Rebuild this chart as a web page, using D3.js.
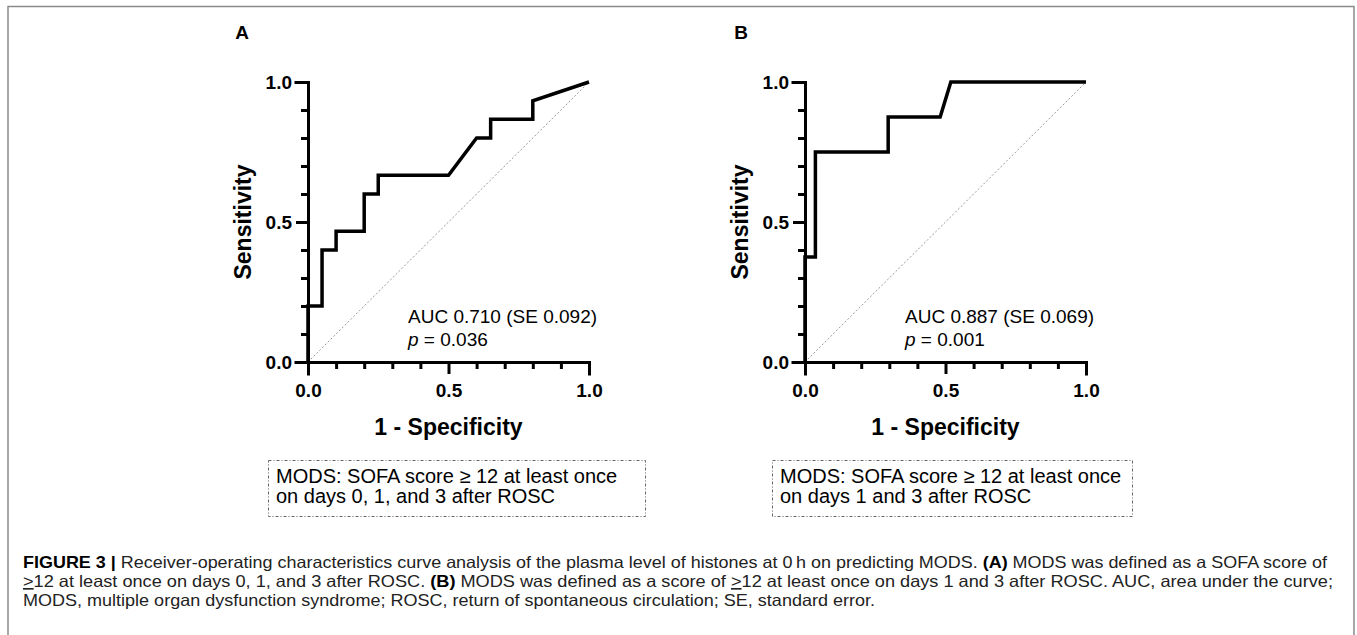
<!DOCTYPE html>
<html>
<head>
<meta charset="utf-8">
<script src="https://cdn.jsdelivr.net/npm/d3@7"></script>
<style>
  body { margin: 0; background: #fff; }
  svg { display: block; font-family: Arial, "Liberation Sans", sans-serif; }
</style>
</head>
<body>
<div id="canvas"></div>
<script>
var _width = 1357;
var _height = 635;

// ROC curve points
var panelLabels = ["A", "B"];
var fprA = [0, 0, 0.05, 0.05, 0.1, 0.1, 0.2, 0.2, 0.25, 0.25, 0.5, 0.6, 0.65, 0.65, 0.8, 0.8, 1.0];
var tprA = [0, 0.2, 0.2, 0.4, 0.4, 0.467, 0.467, 0.6, 0.6, 0.667, 0.667, 0.8, 0.8, 0.867, 0.867, 0.933, 1.0];
var fprB = [0, 0, 0.037, 0.037, 0.296, 0.296, 0.481, 0.519, 1.0];
var tprB = [0, 0.375, 0.375, 0.75, 0.75, 0.875, 0.875, 1.0, 1.0];

var aucLabels = ["AUC 0.710 (SE 0.092)", "AUC 0.887 (SE 0.069)"];
var pValues = ["0.036", "0.001"];
var majorTicks = [0, 0.5, 1.0];
var minorTicks = [0.1, 0.2, 0.3, 0.4, 0.6, 0.7, 0.8, 0.9];
var xTitle = "1 - Specificity";
var yTitle = "Sensitivity";
var boxLinesA = ["MODS: SOFA score \u2265 12 at least once", "on days 0, 1, and 3 after ROSC"];
var boxLinesB = ["MODS: SOFA score \u2265 12 at least once", "on days 1 and 3 after ROSC"];

var panels = [
    {label: panelLabels[0], fpr: fprA, tpr: tprA, auc: aucLabels[0], p: pValues[0], box: boxLinesA,
     left: 308, top: 82, boxX: 268, boxW: 377, labelX: 242},
    {label: panelLabels[1], fpr: fprB, tpr: tprB, auc: aucLabels[1], p: pValues[1], box: boxLinesB,
     left: 805, top: 82, boxX: 772, boxW: 360, labelX: 741}
];
var pw = 281, ph = 280;

var svg = d3.select('#canvas').append('svg')
    .attr('width', _width)
    .attr('height', _height);

// outer frame
svg.append('rect')
    .attr('x', 8).attr('y', 6.5)
    .attr('width', 1346).attr('height', 700)
    .style('fill', 'none')
    .style('stroke', '#8a8a8a')
    .style('stroke-width', 1.5);

panels.forEach(function(p) {
    var xs = d3.scaleLinear().domain([0, 1]).range([0, pw]);
    var ys = d3.scaleLinear().domain([0, 1]).range([ph, 0]);

    var g = svg.append('g').attr('transform', 'translate(' + p.left + ',' + p.top + ')');

    // panel letter
    svg.append('text')
        .attr('x', p.labelX).attr('y', 39)
        .attr('text-anchor', 'middle')
        .style('font-size', '19px').style('font-weight', 'bold')
        .text(p.label);

    // chance line
    g.append('line')
        .attr('x1', xs(0)).attr('y1', ys(0))
        .attr('x2', xs(1)).attr('y2', ys(1))
        .style('stroke', '#999')
        .style('stroke-width', 1)
        .style('stroke-dasharray', '2,2');

    // minor ticks
    g.append('g').attr('transform', 'translate(0,' + ph + ')')
        .call(d3.axisBottom(xs).tickValues(minorTicks).tickSize(7).tickFormat(''))
        .call(styleAxis);
    g.append('g')
        .call(d3.axisLeft(ys).tickValues(minorTicks).tickSize(7).tickFormat(''))
        .call(styleAxis);

    // major ticks + labels
    g.append('g').attr('transform', 'translate(0,' + ph + ')')
        .call(d3.axisBottom(xs).tickValues(majorTicks).tickSize(12).tickPadding(10).tickFormat(d3.format('.1f')))
        .call(styleAxis);
    g.append('g')
        .call(d3.axisLeft(ys).tickValues(majorTicks).tickSize(12).tickPadding(4).tickFormat(d3.format('.1f')))
        .call(styleAxis);

    // ROC curve
    var pts = p.fpr.map(function(v, i) { return [v, p.tpr[i]]; });
    g.append('path')
        .datum(pts)
        .attr('d', d3.line().x(function(d) { return xs(d[0]); }).y(function(d) { return ys(d[1]); }))
        .style('fill', 'none')
        .style('stroke', '#000')
        .style('stroke-width', 3.5)
        .style('stroke-linejoin', 'miter');

    // axis titles
    g.append('text')
        .attr('x', pw / 2).attr('y', ph + 73)
        .attr('text-anchor', 'middle')
        .style('font-size', '23px').style('font-weight', 'bold')
        .text(xTitle);
    g.append('text')
        .attr('transform', 'translate(-57,' + (ph / 2) + ') rotate(-90)')
        .attr('text-anchor', 'middle')
        .style('font-size', '23px').style('font-weight', 'bold')
        .text(yTitle);

    // AUC annotation
    g.append('text')
        .attr('x', 100).attr('y', ph - 39)
        .style('font-size', '19px')
        .text(p.auc);
    var pt = g.append('text')
        .attr('x', 100).attr('y', ph - 16)
        .style('font-size', '19px');
    pt.append('tspan').style('font-style', 'italic').text('p');
    pt.append('tspan').text(' = ' + p.p);

    // definition box
    var by = 460;
    svg.append('rect')
        .attr('x', p.boxX + 0.5).attr('y', by + 0.5)
        .attr('width', p.boxW).attr('height', 56)
        .style('fill', 'none')
        .style('stroke', '#666')
        .style('stroke-width', 1)
        .style('stroke-dasharray', '3,2,1,2');
    p.box.forEach(function(line, i) {
        svg.append('text')
            .attr('x', p.boxX + 8).attr('y', by + 23 + i * 20)
            .style('font-size', '20px')
            .text(line);
    });
});

function styleAxis(sel) {
    sel.select('.domain').style('stroke', '#000').style('stroke-width', 3).style('stroke-linecap', 'square');
    sel.selectAll('.tick line').style('stroke', '#000').style('stroke-width', 3);
    sel.selectAll('.tick text')
        .style('font-family', 'Arial, "Liberation Sans", sans-serif')
        .style('font-size', '19px').style('font-weight', 'bold').style('fill', '#000');
}

// caption
var captionLines = [
    [["b", "FIGURE 3 | "], ["n", "Receiver-operating characteristics curve analysis of the plasma level of histones at 0\u2009h on predicting MODS. "], ["b", "(A)"], ["n", " MODS was defined as a SOFA score of"]],
    [["u", ">"], ["n", "12 at least once on days 0, 1, and 3 after ROSC. "], ["b", "(B)"], ["n", " MODS was defined as a score of "], ["u", ">"], ["n", "12 at least once on days 1 and 3 after ROSC. AUC, area under the curve;"]],
    [["n", "MODS, multiple organ dysfunction syndrome; ROSC, return of spontaneous circulation; SE, standard error."]]
];
var captionWidths = [1304, 1310, 852];

captionLines.forEach(function(parts, i) {
    var t = svg.append('text')
        .attr('x', 23).attr('y', 568 + i * 19)
        .attr('textLength', captionWidths[i])
        .attr('lengthAdjust', 'spacingAndGlyphs')
        .style('font-family', '"Liberation Sans Narrow", "Arial Narrow", "Liberation Sans", sans-serif')
        .style('font-size', '16.5px')
        .style('fill', '#222');
    parts.forEach(function(pp) {
        var s = t.append('tspan').text(pp[1]);
        if (pp[0] == "b") s.style('font-weight', 'bold').style('fill', '#000');
        if (pp[0] == "u") s.style('text-decoration', 'underline');
    });
});
</script>
</body>
</html>
